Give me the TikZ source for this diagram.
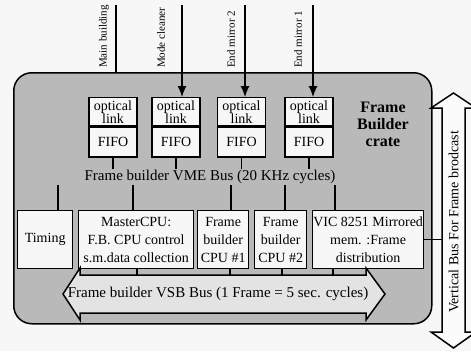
\documentclass[tikz,border=0pt]{standalone}
\usepackage{fontspec}
\setmainfont{Liberation Serif}
\usetikzlibrary{arrows.meta,calc}
\begin{document}
\begin{tikzpicture}[x=1pt,y=-1pt,
  every node/.style={font=\fontsize{14}{13}\selectfont, inner sep=1pt},
  ln/.style={line width=1.3pt},
  cellbox/.style={draw, line width=1.3pt, fill=gray!6, align=center, minimum width=48pt, inner sep=0pt},
  lowbox/.style={draw, line width=1.3pt, fill=gray!6, align=center, minimum height=58pt, inner sep=0pt, font=\fontsize{14}{18}\selectfont},
  feed/.style={line width=1.2pt, -{Latex[length=11pt,width=9pt]}},
  srclabel/.style={rotate=90, anchor=west, font=\fontsize{11}{11}\selectfont},
  buslabel/.style={font=\fontsize{15}{15}\selectfont},
  blockarrow/.style={line width=1.5pt, line join=miter},
]
\useasboundingbox (0,0) rectangle (471,351);
\fill[gray!6] (0,0) rectangle (471,351);

% crate
\node[draw, line width=1.5pt, fill=gray!55, rounded corners=18pt, minimum width=418pt, minimum height=251pt, inner sep=0pt, anchor=north west] (crate) at (13,72) {};

% vertical bus arrow
\draw[blockarrow, fill=gray!3] (453.5,93) -- (476,108) -- (465,108) -- (465,332) -- (476,332) -- (453.5,348) -- (431,332) -- (442,332) -- (442,108) -- (431,108) -- cycle;
\node[rotate=90, font=\fontsize{14}{14}\selectfont] (vbl) at (453.5,222) {Vertical Bus For Frame brodcast};
\coordinate (vbleft) at (442,0);

% optical link boxes
\node[cellbox, minimum height=28pt, anchor=north] (ol1) at (113,97) {optical\\link};
\node[cellbox, minimum height=30pt, anchor=north] (ff1) at (ol1.south) {FIFO};
\node[cellbox, minimum height=28pt, anchor=north] (ol2) at (176,97) {optical\\link};
\node[cellbox, minimum height=30pt, anchor=north] (ff2) at (ol2.south) {FIFO};
\node[cellbox, minimum height=28pt, anchor=north] (ol3) at (241.5,97) {optical\\link};
\node[cellbox, minimum height=30pt, anchor=north] (ff3) at (ol3.south) {FIFO};
\node[cellbox, minimum height=28pt, anchor=north] (ol4) at (309,97) {optical\\link};
\node[cellbox, minimum height=30pt, anchor=north] (ff4) at (ol4.south) {FIFO};

% crate label
\node[font=\bfseries\fontsize{16}{17}\selectfont, align=center] (cl) at (383,124) {Frame\\Builder\\crate};

% source lines and labels
\coordinate (s1) at (116,5);
\coordinate (s2) at (182,5);
\coordinate (s3) at (245,5);
\coordinate (s4) at (313,5);
\draw[line width=1.2pt] (s1) -- (s1 |- crate.north);
\draw[feed] (s2) -- (s2 |- ol2.north);
\draw[feed] (s3) -- (s3 |- ol3.north);
\draw[feed] (s4) -- (s4 |- ol4.north);
\node[srclabel] (l1) at (104,69) {Main building};
\node[srclabel] (l2) at (161,69) {Mode cleaner};
\node[srclabel] (l3) at (231,69) {End mirror 2};
\node[srclabel] (l4) at (298,69) {End mirror 1};

% VME bus
\node[buslabel] (vme) at (210,177) {Frame builder VME Bus (20 KHz cycles)};
\foreach \b in {ff1,ff2,ff3,ff4} \draw[ln] (\b.south) -- (\b.south |- vme.north);

% lower boxes
\node[lowbox, minimum width=55pt, anchor=north west] (tim) at (17,210) {Timing};
\node[lowbox, minimum width=115pt, anchor=north west] (mcpu) at (78,210) {MasterCPU:\\F.B. CPU control\\s.m.data collection};
\node[lowbox, minimum width=51pt, anchor=north west] (cpu1) at (197,210) {Frame\\builder\\CPU \#1};
\node[lowbox, minimum width=52pt, anchor=north west] (cpu2) at (254,210) {Frame\\builder\\CPU \#2};
\node[lowbox, minimum width=111pt, anchor=north west] (vic) at (312,210) {VIC 8251 Mirrored\\mem. :Frame\\distribution};

\coordinate (t1) at (58,0);
\coordinate (t2) at (133,0);
\coordinate (t3) at (231,0);
\coordinate (t4) at (285,0);
\coordinate (t5) at (335,0);
\draw[ln] (t1 |- vme.south) -- (t1 |- tim.north);
\draw[ln] (t2 |- vme.south) -- (t2 |- mcpu.north);
\draw[ln] (t3 |- vme.south) -- (t3 |- cpu1.north);
\draw[ln] (t4 |- vme.south) -- (t4 |- cpu2.north);
\draw[ln] (t5 |- vme.south) -- (t5 |- vic.north);

% VSB bus arrow
\draw[blockarrow, fill=gray!22] (63,294) -- (80,268) -- (80,275) -- (366,275) -- (366,268) -- (385,294) -- (366,320) -- (366,313) -- (80,313) -- (80,320) -- cycle;
\coordinate (vsbtop) at (0,275);
\node[buslabel] (vsb) at (218,294) {Frame builder VSB Bus (1 Frame = 5 sec. cycles)};
\coordinate (b1) at (137,0);
\coordinate (b2) at (230,0);
\coordinate (b3) at (282,0);
\coordinate (b4) at (333,0);
\draw[ln] (b1 |- mcpu.south) -- (b1 |- vsbtop);
\draw[ln] (b2 |- cpu1.south) -- (b2 |- vsbtop);
\draw[ln] (b3 |- cpu2.south) -- (b3 |- vsbtop);
\draw[ln] (b4 |- vic.south) -- (b4 |- vsbtop);

% VIC to vertical bus
\draw[ln] (vic.east) -- (vic.east -| vbleft);
\end{tikzpicture}
\end{document}
